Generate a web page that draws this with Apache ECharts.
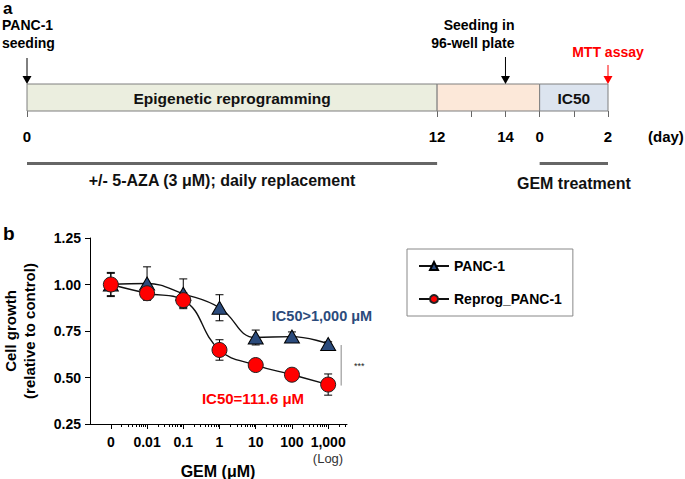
<!DOCTYPE html>
<html>
<head>
<meta charset="utf-8">
<script src="https://cdn.jsdelivr.net/npm/echarts@6/dist/echarts.min.js"></script>
<style>
html,body{margin:0;padding:0;background:#fff;}
#chart{width:685px;height:479px;}
</style>
</head>
<body>
<div id="chart"></div>
<script>
// ---------- Panel a: timeline data ----------
const phaseSpans = [[0, 12], [12, 15], [15, 17]];
const phaseNames = ['Epigenetic reprogramming', '', 'IC50'];
const timelineTicks = [0, 12, 13, 14, 15, 16, 17];
const timelineLabelDays = [0, 12, 14, 15, 17];
const timelineLabelTexts = ['0', '12', '14', '0', '2'];
const eventDays = [0, 14, 17];
const eventNames = ['PANC-1\nseeding', 'Seeding in\n96-well plate', 'MTT assay'];
const treatmentSpans = [[0, 12], [15, 17]];
const treatmentNames = ['+/- 5-AZA (3 \u03bcM); daily replacement', 'GEM treatment'];

// ---------- Panel b: dose-response data ----------
const doseLabels = ['0', '0.01', '0.1', '1', '10', '100', '1,000'];
const doseIndex = [0, 1, 2, 3, 4, 5, 6];
const pancMean = [1.00, 1.005, 0.95, 0.875, 0.715, 0.72, 0.68];
const pancErr  = [0.06, 0.09, 0.08, 0.07, 0.04, 0.025, 0.012];
const reprogMean = [1.00, 0.953, 0.916, 0.648, 0.567, 0.515, 0.462];
const reprogErr  = [0.065, 0.03, 0.04, 0.055, 0.018, 0.025, 0.057];
const seriesNames = ['PANC-1', 'Reprog_PANC-1'];

const FONT = 'Liberation Sans, Arial, sans-serif';
const NAVY = '#2B4B7C';
const RED = '#FF0000';

// minor log ticks (positions only)
const minorTicks = [];
for (let i = 0; i < 7; i++) {
  for (let k = 2; k <= 9; k++) {
    const v = i + Math.log10(k);
    if (v < 6.52) minorTicks.push(v);
  }
}

const phaseColors = ['#EBEEDF', '#FCE8D9', '#DCE4EF'];

function txt(text, size, fill, align, bold, extra) {
  return Object.assign({ text: text, fontFamily: FONT, fontWeight: bold ? 'bold' : 'normal', fontSize: size, fill: fill,
    align: align, verticalAlign: 'middle', textAlign: align, textVerticalAlign: 'middle' }, extra || {});
}

function renderPhase(params, api) {
  const i = params.dataIndex;
  const s = api.coord([api.value(0), 1]);
  const e = api.coord([api.value(1), 0]);
  return {
    type: 'group',
    children: [
      { type: 'rect', shape: { x: s[0], y: s[1], width: e[0] - s[0], height: e[1] - s[1] },
        style: { fill: phaseColors[i], stroke: '#7f7f7f', lineWidth: 1 } },
      { type: 'text', x: (s[0] + e[0]) / 2, y: (s[1] + e[1]) / 2 + 1,
        style: txt(phaseNames[i], 15.5, '#111', 'center', true) }
    ]
  };
}

const arrowLen = [26, 27, 19];
function renderEvent(params, api) {
  const i = params.dataIndex;
  const p = api.coord([api.value(0), 1]);
  const x = p[0], yb = p[1];
  const col = i === 2 ? RED : '#000';
  let tx = x, align = 'center';
  if (i === 0) { tx = x - 25; align = 'left'; }
  if (i === 1) { tx = x + 9; align = 'right'; }
  const ty = i === 2 ? yb - 32 : yb - 50;
  return {
    type: 'group',
    children: [
      { type: 'line', shape: { x1: x, y1: yb - arrowLen[i], x2: x, y2: yb - 7 }, style: { stroke: col, lineWidth: 1 } },
      { type: 'polygon', shape: { points: [[x - 4.5, yb - 8], [x + 4.5, yb - 8], [x, yb]] }, style: { fill: col } },
      { type: 'text', x: tx, y: ty, style: txt(eventNames[i], 14, col, align, true, { lineHeight: 17.5 }) }
    ]
  };
}

function renderTreatment(params, api) {
  const i = params.dataIndex;
  const s = api.coord([api.value(0), 0]);
  const e = api.coord([api.value(1), 0]);
  const y = s[1] + 52.5;
  return {
    type: 'group',
    children: [
      { type: 'line', shape: { x1: s[0], y1: y, x2: e[0], y2: y }, style: { stroke: '#666', lineWidth: 3 } },
      { type: 'text', x: (s[0] + e[0]) / 2 - (i === 0 ? 10 : 0), y: y + (i === 0 ? 17 : 19.5),
        style: txt(treatmentNames[i], 16, '#111', 'center', true) }
    ]
  };
}

function renderErr(params, api) {
  const x = api.value(0);
  const lo = api.coord([x, api.value(1)]);
  const hi = api.coord([x, api.value(2)]);
  const c = 4;
  return {
    type: 'group',
    children: [
      { type: 'line', shape: { x1: lo[0], y1: lo[1], x2: hi[0], y2: hi[1] }, style: { stroke: '#000', lineWidth: 1 } },
      { type: 'line', shape: { x1: lo[0] - c, y1: lo[1], x2: lo[0] + c, y2: lo[1] }, style: { stroke: '#000', lineWidth: 1 } },
      { type: 'line', shape: { x1: hi[0] - c, y1: hi[1], x2: hi[0] + c, y2: hi[1] }, style: { stroke: '#000', lineWidth: 1 } }
    ]
  };
}

function renderSig(params, api) {
  const a = api.coord([api.value(0), api.value(1)]);
  const b = api.coord([api.value(0), api.value(2)]);
  const x = a[0] + 13;
  return {
    type: 'group',
    children: [
      { type: 'line', shape: { x1: x, y1: a[1] + 1, x2: x, y2: b[1] + 1 }, style: { stroke: '#888', lineWidth: 1 } },
      { type: 'text', x: x + 18, y: (a[1] + b[1]) / 2 + 2, style: txt('***', 9, '#222', 'center', false) }
    ]
  };
}

const chart = echarts.init(document.getElementById('chart'), null, { renderer: 'svg' });

const axisFontB = { fontFamily: FONT, fontWeight: 'bold', fontSize: 14, color: '#000' };

const option = {
  animation: false,
  backgroundColor: '#fff',
  textStyle: { fontFamily: FONT },
  grid: [
    { left: 27, top: 84, width: 581, height: 27 },
    { left: 88, top: 238, width: 259, height: 186 }
  ],
  xAxis: [
    { gridIndex: 0, type: 'value', min: 0, max: 17, position: 'bottom',
      axisLine: { show: false }, splitLine: { show: false },
      axisTick: { show: true, length: 6, customValues: timelineTicks, lineStyle: { color: '#666', width: 1 } },
      axisLabel: { show: true, customValues: timelineLabelDays, margin: 18, ...axisFontB, fontSize: 15,
        formatter: v => { const k = timelineLabelDays.indexOf(v); return k >= 0 ? timelineLabelTexts[k] : ''; } } },
    { gridIndex: 1, type: 'value', min: -0.575, max: 6.52, position: 'bottom',
      axisLine: { show: true, onZero: false, lineStyle: { color: '#000', width: 1 } }, splitLine: { show: false },
      axisTick: { show: true, length: 5, customValues: doseIndex, lineStyle: { color: '#000' } },
      axisLabel: { show: true, customValues: doseIndex, margin: 11, ...axisFontB,
        formatter: v => doseLabels[Math.round(v)] } },
    { gridIndex: 1, type: 'value', min: -0.575, max: 6.52, position: 'bottom', offset: 0,
      axisLine: { show: false }, splitLine: { show: false },
      axisTick: { show: true, length: 3, customValues: minorTicks, lineStyle: { color: '#000' } },
      axisLabel: { show: false } }
  ],
  yAxis: [
    { gridIndex: 0, type: 'value', min: 0, max: 1, show: false },
    { gridIndex: 1, type: 'value', min: 0.25, max: 1.25, interval: 0.25,
      axisLine: { show: true, onZero: false, lineStyle: { color: '#000', width: 1 } },
      axisTick: { show: true, length: 5, lineStyle: { color: '#000' } },
      splitLine: { show: false },
      axisLabel: { margin: 9, ...axisFontB, formatter: v => v.toFixed(2) },
      name: 'Cell growth\n(relative to control)', nameLocation: 'middle', nameRotate: 90, nameGap: 51,
      nameTextStyle: { fontFamily: FONT, fontWeight: 'bold', fontSize: 15, color: '#000', lineHeight: 19 } }
  ],
  legend: {
    data: seriesNames, orient: 'vertical', left: 407, top: 249,
    borderColor: '#888', borderWidth: 1, padding: [10, 11, 10, 11],
    itemWidth: 30, itemHeight: 10, itemGap: 19,
    textStyle: { fontFamily: FONT, fontWeight: 'bold', fontSize: 14, color: '#000' }
  },
  graphic: [
    { type: 'text', x: 3, y: 8.8, style: { text: 'a', fontFamily: FONT, fontWeight: 'bold', fontSize: 17, lineHeight: 13, fill: '#000', verticalAlign: 'middle' } },
    { type: 'text', left: 3, top: 224, style: { text: 'b', fontFamily: FONT, fontWeight: 'bold', fontSize: 19, fill: '#000' } },
    { type: 'text', x: 648, y: 136, style: { text: '(day)', fontFamily: FONT, fontWeight: 'bold', fontSize: 15, fill: '#000', verticalAlign: 'middle' } },
    { type: 'text', x: 322, y: 316, style: { text: 'IC50>1,000 \u03bcM', fontFamily: FONT, fontWeight: 'bold', fontSize: 14.5, fill: NAVY, align: 'center', verticalAlign: 'middle' } },
    { type: 'text', x: 253, y: 398, style: { text: 'IC50=111.6 \u03bcM', fontFamily: FONT, fontWeight: 'bold', fontSize: 15, fill: RED, align: 'center', verticalAlign: 'middle' } },
    { type: 'text', x: 328, y: 458, style: { text: '(Log)', fontFamily: FONT, fontSize: 13, fill: '#333', align: 'center', verticalAlign: 'middle' } },
    { type: 'text', x: 218, y: 471, style: { text: 'GEM (\u03bcM)', fontFamily: FONT, fontWeight: 'bold', fontSize: 16, fill: '#000', align: 'center', verticalAlign: 'middle' } }
  ],
  series: [
    { type: 'custom', xAxisIndex: 0, yAxisIndex: 0, renderItem: renderPhase, data: phaseSpans, silent: true },
    { type: 'custom', xAxisIndex: 0, yAxisIndex: 0, renderItem: renderEvent, data: eventDays.map(d => [d]), silent: true },
    { type: 'custom', xAxisIndex: 0, yAxisIndex: 0, renderItem: renderTreatment, data: treatmentSpans, silent: true },
    { type: 'custom', xAxisIndex: 1, yAxisIndex: 1, renderItem: renderSig, silent: true,
      data: [[doseIndex[6], pancMean[6], reprogMean[6]]] },
    { type: 'custom', xAxisIndex: 1, yAxisIndex: 1, renderItem: renderErr, silent: true,
      data: doseIndex.map((x, i) => [x, pancMean[i] - pancErr[i], pancMean[i] + pancErr[i]]) },
    { name: seriesNames[0], type: 'line', xAxisIndex: 1, yAxisIndex: 1, smooth: 0.45,
      data: doseIndex.map((x, i) => [x, pancMean[i]]),
      symbol: 'triangle', symbolSize: [15, 13],
      itemStyle: { color: NAVY, borderColor: '#000', borderWidth: 1 },
      lineStyle: { color: '#111', width: 1.4 } },
    { type: 'custom', xAxisIndex: 1, yAxisIndex: 1, renderItem: renderErr, silent: true,
      data: doseIndex.map((x, i) => [x, reprogMean[i] - reprogErr[i], reprogMean[i] + reprogErr[i]]) },
    { name: seriesNames[1], type: 'line', xAxisIndex: 1, yAxisIndex: 1, smooth: 0.45,
      data: doseIndex.map((x, i) => [x, reprogMean[i]]),
      symbol: 'circle', symbolSize: 15,
      itemStyle: { color: RED, borderColor: '#222', borderWidth: 1 },
      lineStyle: { color: '#111', width: 1.4 } }
  ]
};
chart.setOption(option);
</script>
</body>
</html>
